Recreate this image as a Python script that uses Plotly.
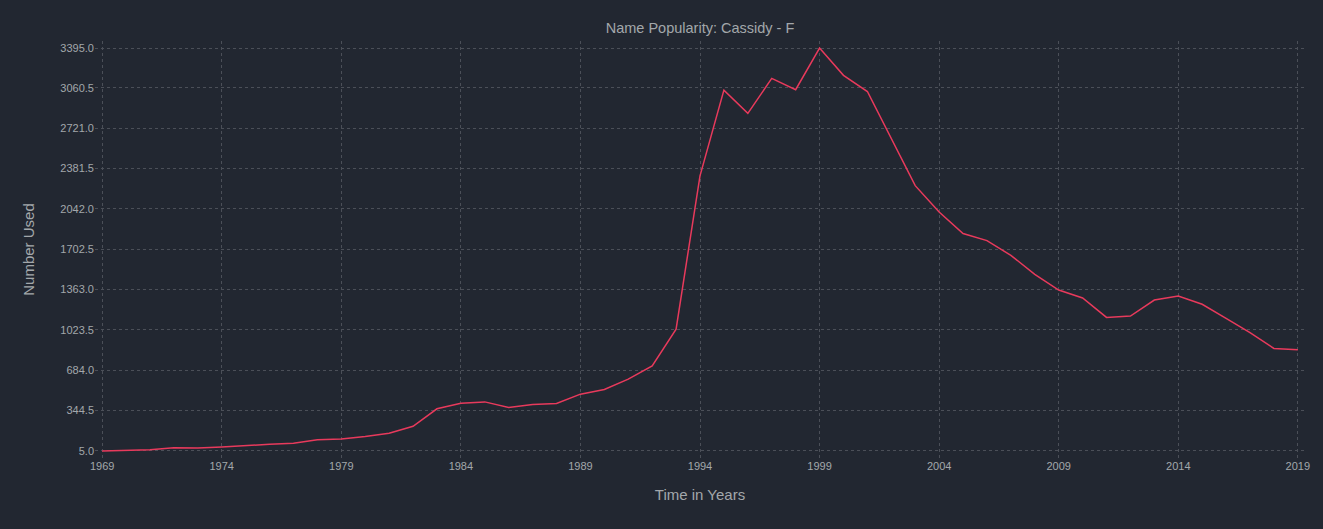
import plotly.graph_objects as go

# Name popularity data
years = list(range(1969, 2020))
counts = [
    5, 11, 16, 33, 30, 39, 53, 61, 70, 100,
    106, 126, 154, 213, 360, 407, 418, 370, 396, 404,
    483, 522, 609, 721, 1030, 2320, 3041, 2845, 3139, 3044,
    3395, 3165, 3029, 2632, 2237, 2016, 1834, 1775, 1651, 1491,
    1359, 1292, 1129, 1140, 1275, 1309, 1239, 1121, 1000, 868,
    857,
]

title_text = "Name Popularity: Cassidy - F"
x_title = "Time in Years"
y_title = "Number Used"

bg = "#222731"
text_col = "#a3a7ab"
grid_col = "#4b4f58"
line_col = "#e83a5c"
font_name = "Liberation Sans"

y_min, y_max = min(counts), max(counts)
# min plus tenths of the max, last tick is the max itself
y_ticks = [y_min + k * y_max / 10 for k in range(10)] + [y_max]
y_labels = [f"{v:.1f}" for v in y_ticks]
y_pad = 59

fig = go.Figure()
fig.add_trace(go.Scatter(
    x=years, y=counts, mode="lines",
    line=dict(color=line_col, width=1.5),
    hoverinfo="x+y",
))

fig.update_layout(
    width=1323, height=529,
    paper_bgcolor=bg, plot_bgcolor=bg,
    margin=dict(l=95, r=18, t=41, b=71),
    font=dict(family=font_name, color=text_col, size=11),
    showlegend=False,
    title=dict(text=title_text, xref="paper", x=0.5, xanchor="center",
               y=0.947, yanchor="middle",
               font=dict(size=14.5, color=text_col)),
)

fig.update_xaxes(
    range=[1969 - 0.3, 2019 + 0.3],
    tick0=1969, dtick=5,
    showgrid=True, gridcolor=grid_col, griddash="dot", gridwidth=1,
    zeroline=False, showline=False,
    ticks="", tickfont=dict(size=11, color=text_col),
    title=dict(text=x_title, font=dict(size=15, color=text_col), standoff=18),
)

fig.update_yaxes(
    range=[y_min - y_pad, y_max + y_pad],
    tickvals=y_ticks, ticktext=y_labels,
    showgrid=True, gridcolor=grid_col, griddash="dot", gridwidth=1,
    zeroline=False, showline=False,
    ticks="", tickfont=dict(size=11, color=text_col),
    title=dict(text=y_title, font=dict(size=15, color=text_col), standoff=22),
)

fig.write_html(
    "out.html",
    config={"displayModeBar": False},
    post_script="document.body.style.margin='0';document.body.style.background='#222731';",
)
